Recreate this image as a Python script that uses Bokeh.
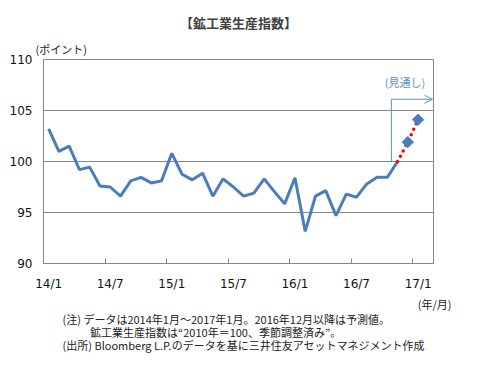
from bokeh.plotting import figure
from bokeh.models import Range1d, FixedTicker, Label, Arrow, OpenHead, Title
from bokeh.embed import file_html
from bokeh.resources import INLINE
import math

# ---- data ----
actual_values = [103.2, 101.0, 101.5, 99.2, 99.45, 97.6, 97.5, 96.6, 98.1, 98.45, 97.9, 98.1,
                 100.8, 98.75, 98.2, 98.85, 96.6, 98.3, 97.5, 96.6, 96.9, 98.3, 97.05, 95.85,
                 98.4, 93.15, 96.6, 97.15, 94.7, 96.8, 96.5, 97.8, 98.45, 98.45, 100.0]
forecast_values = [101.9, 104.1]
tick_labels = ["14/1", "14/7", "15/1", "15/7", "16/1", "16/7", "17/1"]
y_ticks = [90, 95, 100, 105, 110]
note_lines = ["(注) データは2014年1月～2017年1月。2016年12月以降は予測値。",
              "\u3000\u3000\u2002鉱工業生産指数は“2010年＝100、季節調整済み”。",
              "(出所) Bloomberg L.P.のデータを基に三井住友アセットマネジメント作成"]

n_act = len(actual_values)
act_x = list(range(n_act))
fc_x = list(range(n_act, n_act + len(forecast_values)))
label_pos = list(range(0, n_act + len(forecast_values), 6))
between_ticks = [p - 0.5 for p in label_pos[1:]]

BLUE = "#4a7ebb"
GRAY = "#868686"
JP = "Noto Sans CJK JP"
LAT = "DejaVu Sans"

p = figure(width=461, height=365, output_backend="svg", toolbar_location=None,
           x_range=Range1d(-0.5, 37.5), y_range=Range1d(90, 110),
           min_border_left=43, min_border_right=28, min_border_top=59, min_border_bottom=102)
p.title = None
p.background_fill_color = "white"
p.border_fill_color = "white"
p.outline_line_color = GRAY
p.outline_line_width = 1

# axes
p.yaxis.ticker = FixedTicker(ticks=y_ticks)
p.yaxis.major_tick_in = 0
p.yaxis.major_tick_out = 0
p.yaxis.minor_tick_in = 0
p.yaxis.minor_tick_out = 0
p.yaxis.major_label_standoff = 11
p.yaxis.axis_line_color = GRAY
p.yaxis.major_label_text_font = LAT
p.yaxis.major_label_text_font_size = "12px"
p.yaxis.major_label_text_color = "#111111"

p.xaxis.ticker = FixedTicker(ticks=label_pos, minor_ticks=between_ticks)
p.xaxis.major_label_overrides = {pos: lab for pos, lab in zip(label_pos, tick_labels)}
p.xaxis.major_tick_in = 0
p.xaxis.major_tick_out = 0
p.xaxis.minor_tick_in = 5
p.xaxis.minor_tick_out = 0
p.xaxis.minor_tick_line_color = GRAY
p.xaxis.major_label_standoff = 13
p.xaxis.axis_line_color = GRAY
p.xaxis.major_label_text_font = LAT
p.xaxis.major_label_text_font_size = "12px"
p.xaxis.major_label_text_color = "#111111"

p.xgrid.grid_line_color = None
p.ygrid.ticker = FixedTicker(ticks=y_ticks)
p.ygrid.grid_line_color = GRAY
p.ygrid.grid_line_width = 1

# forecast bracket
p.segment(x0=[33.4], y0=[100.0], x1=[33.4], y1=[106.1], line_color="#5b8fd3", line_width=1)
p.add_layout(Arrow(end=OpenHead(size=8, line_color="#5b8fd3", line_width=1),
                   x_start=33.4, y_start=106.1, x_end=37.4, y_end=106.1,
                   line_color="#5b8fd3", line_width=1))

# series
p.line(act_x, actual_values, line_color=BLUE, line_width=3)
p.line([act_x[-1]] + fc_x, [actual_values[-1]] + forecast_values, line_color="red",
       line_width=3.5, line_dash="0 6", line_cap="round")
p.scatter(fc_x, forecast_values, marker="square", size=8, angle=math.pi / 4,
          fill_color=BLUE, line_color=BLUE)

p.add_layout(Label(x=34.72, y=107.77, text="(見通し)", text_font=JP, text_font_size="11px",
                   text_color="#5b8fd3", text_align="center", text_baseline="middle"))

# titles around the frame
def ttl(place, t, size, align="left", offset=0, standoff=0, color="#222222", style="normal", lh=1.0):
    p.add_layout(Title(text=t, text_font=JP, text_font_size=size, align=align, offset=offset,
                       standoff=standoff, text_color=color, text_font_style=style,
                       text_line_height=lh), place)

ttl("above", "(ポイント)", "11px", offset=-8, standoff=6)
ttl("above", "【鉱工業生産指数】", "13px", align="center", standoff=8, color="#404040", style="bold")
ttl("below", "(年/月)", "11px", align="right", offset=-18, standoff=0)
ttl("below", "\n".join(note_lines), "11px", offset=19, standoff=-5, lh=0.8)

open("out.html", "w").write(file_html(p, INLINE))
